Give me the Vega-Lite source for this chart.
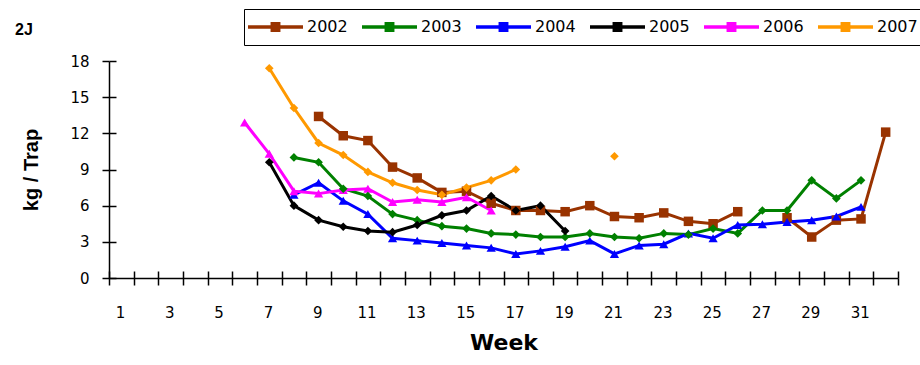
{
  "$schema": "https://vega.github.io/schema/vega-lite/v6.json",
  "autosize": {"type": "none"},
  "width": 789,
  "height": 217,
  "padding": {"left": 109, "top": 61, "right": 22, "bottom": 87},
  "background": "white",
  "title": {"text": "2J", "anchor": "start", "frame": "group", "dx": -94, "dy": 33, "fontSize": 16, "fontWeight": "bold", "font": "Liberation Sans", "color": "black"},
  "config": {
    "view": {"stroke": null},
    "font": "DejaVu Sans",
    "axis": {"grid": false, "domainColor": "black", "tickColor": "black", "labelColor": "black", "titleColor": "black", "domainWidth": 1.5, "tickWidth": 1.5, "labelFont": "DejaVu Sans", "labelFontSize": 15},
    "point": {"filled": true, "opacity": 1}
  },
  "data": {"values": [
    {"year": "2002", "seg": "2002a", "week": 9, "kg": 13.4},
    {"year": "2002", "seg": "2002a", "week": 10, "kg": 11.8},
    {"year": "2002", "seg": "2002a", "week": 11, "kg": 11.4},
    {"year": "2002", "seg": "2002a", "week": 12, "kg": 9.2},
    {"year": "2002", "seg": "2002a", "week": 13, "kg": 8.3},
    {"year": "2002", "seg": "2002a", "week": 14, "kg": 7.1},
    {"year": "2002", "seg": "2002a", "week": 15, "kg": 7.2},
    {"year": "2002", "seg": "2002a", "week": 16, "kg": 6.2},
    {"year": "2002", "seg": "2002a", "week": 17, "kg": 5.6},
    {"year": "2002", "seg": "2002a", "week": 18, "kg": 5.6},
    {"year": "2002", "seg": "2002a", "week": 19, "kg": 5.5},
    {"year": "2002", "seg": "2002a", "week": 20, "kg": 6.0},
    {"year": "2002", "seg": "2002a", "week": 21, "kg": 5.1},
    {"year": "2002", "seg": "2002a", "week": 22, "kg": 5.0},
    {"year": "2002", "seg": "2002a", "week": 23, "kg": 5.4},
    {"year": "2002", "seg": "2002a", "week": 24, "kg": 4.7},
    {"year": "2002", "seg": "2002a", "week": 25, "kg": 4.5},
    {"year": "2002", "seg": "2002a", "week": 26, "kg": 5.5},
    {"year": "2002", "seg": "2002b", "week": 28, "kg": 5.0},
    {"year": "2002", "seg": "2002b", "week": 29, "kg": 3.4},
    {"year": "2002", "seg": "2002b", "week": 30, "kg": 4.8},
    {"year": "2002", "seg": "2002b", "week": 31, "kg": 4.9},
    {"year": "2002", "seg": "2002b", "week": 32, "kg": 12.1},
    {"year": "2003", "seg": "2003", "week": 8, "kg": 10.0},
    {"year": "2003", "seg": "2003", "week": 9, "kg": 9.6},
    {"year": "2003", "seg": "2003", "week": 10, "kg": 7.4},
    {"year": "2003", "seg": "2003", "week": 11, "kg": 6.8},
    {"year": "2003", "seg": "2003", "week": 12, "kg": 5.3},
    {"year": "2003", "seg": "2003", "week": 13, "kg": 4.8},
    {"year": "2003", "seg": "2003", "week": 14, "kg": 4.3},
    {"year": "2003", "seg": "2003", "week": 15, "kg": 4.1},
    {"year": "2003", "seg": "2003", "week": 16, "kg": 3.7},
    {"year": "2003", "seg": "2003", "week": 17, "kg": 3.6},
    {"year": "2003", "seg": "2003", "week": 18, "kg": 3.4},
    {"year": "2003", "seg": "2003", "week": 19, "kg": 3.4},
    {"year": "2003", "seg": "2003", "week": 20, "kg": 3.7},
    {"year": "2003", "seg": "2003", "week": 21, "kg": 3.4},
    {"year": "2003", "seg": "2003", "week": 22, "kg": 3.3},
    {"year": "2003", "seg": "2003", "week": 23, "kg": 3.7},
    {"year": "2003", "seg": "2003", "week": 24, "kg": 3.6},
    {"year": "2003", "seg": "2003", "week": 25, "kg": 4.1},
    {"year": "2003", "seg": "2003", "week": 26, "kg": 3.7},
    {"year": "2003", "seg": "2003", "week": 27, "kg": 5.6},
    {"year": "2003", "seg": "2003", "week": 28, "kg": 5.6},
    {"year": "2003", "seg": "2003", "week": 29, "kg": 8.1},
    {"year": "2003", "seg": "2003", "week": 30, "kg": 6.6},
    {"year": "2003", "seg": "2003", "week": 31, "kg": 8.1},
    {"year": "2004", "seg": "2004", "week": 8, "kg": 6.9},
    {"year": "2004", "seg": "2004", "week": 9, "kg": 7.9},
    {"year": "2004", "seg": "2004", "week": 10, "kg": 6.4},
    {"year": "2004", "seg": "2004", "week": 11, "kg": 5.3},
    {"year": "2004", "seg": "2004", "week": 12, "kg": 3.3},
    {"year": "2004", "seg": "2004", "week": 13, "kg": 3.1},
    {"year": "2004", "seg": "2004", "week": 14, "kg": 2.9},
    {"year": "2004", "seg": "2004", "week": 15, "kg": 2.7},
    {"year": "2004", "seg": "2004", "week": 16, "kg": 2.5},
    {"year": "2004", "seg": "2004", "week": 17, "kg": 2.0},
    {"year": "2004", "seg": "2004", "week": 18, "kg": 2.25},
    {"year": "2004", "seg": "2004", "week": 19, "kg": 2.6},
    {"year": "2004", "seg": "2004", "week": 20, "kg": 3.1},
    {"year": "2004", "seg": "2004", "week": 21, "kg": 2.0},
    {"year": "2004", "seg": "2004", "week": 22, "kg": 2.7},
    {"year": "2004", "seg": "2004", "week": 23, "kg": 2.8},
    {"year": "2004", "seg": "2004", "week": 24, "kg": 3.7},
    {"year": "2004", "seg": "2004", "week": 25, "kg": 3.3},
    {"year": "2004", "seg": "2004", "week": 26, "kg": 4.4},
    {"year": "2004", "seg": "2004", "week": 27, "kg": 4.45},
    {"year": "2004", "seg": "2004", "week": 28, "kg": 4.65},
    {"year": "2004", "seg": "2004", "week": 29, "kg": 4.8},
    {"year": "2004", "seg": "2004", "week": 30, "kg": 5.1},
    {"year": "2004", "seg": "2004", "week": 31, "kg": 5.9},
    {"year": "2005", "seg": "2005", "week": 7, "kg": 9.6},
    {"year": "2005", "seg": "2005", "week": 8, "kg": 6.0},
    {"year": "2005", "seg": "2005", "week": 9, "kg": 4.8},
    {"year": "2005", "seg": "2005", "week": 10, "kg": 4.25},
    {"year": "2005", "seg": "2005", "week": 11, "kg": 3.9},
    {"year": "2005", "seg": "2005", "week": 12, "kg": 3.8},
    {"year": "2005", "seg": "2005", "week": 13, "kg": 4.4},
    {"year": "2005", "seg": "2005", "week": 14, "kg": 5.2},
    {"year": "2005", "seg": "2005", "week": 15, "kg": 5.6},
    {"year": "2005", "seg": "2005", "week": 16, "kg": 6.8},
    {"year": "2005", "seg": "2005", "week": 17, "kg": 5.6},
    {"year": "2005", "seg": "2005", "week": 18, "kg": 6.0},
    {"year": "2005", "seg": "2005", "week": 19, "kg": 3.9},
    {"year": "2006", "seg": "2006", "week": 6, "kg": 12.9},
    {"year": "2006", "seg": "2006", "week": 7, "kg": 10.3},
    {"year": "2006", "seg": "2006", "week": 8, "kg": 7.2},
    {"year": "2006", "seg": "2006", "week": 9, "kg": 7.0},
    {"year": "2006", "seg": "2006", "week": 10, "kg": 7.3},
    {"year": "2006", "seg": "2006", "week": 11, "kg": 7.4},
    {"year": "2006", "seg": "2006", "week": 12, "kg": 6.3},
    {"year": "2006", "seg": "2006", "week": 13, "kg": 6.5},
    {"year": "2006", "seg": "2006", "week": 14, "kg": 6.3},
    {"year": "2006", "seg": "2006", "week": 15, "kg": 6.7},
    {"year": "2006", "seg": "2006", "week": 16, "kg": 5.6},
    {"year": "2007", "seg": "2007a", "week": 7, "kg": 17.4},
    {"year": "2007", "seg": "2007a", "week": 8, "kg": 14.1},
    {"year": "2007", "seg": "2007a", "week": 9, "kg": 11.2},
    {"year": "2007", "seg": "2007a", "week": 10, "kg": 10.2},
    {"year": "2007", "seg": "2007a", "week": 11, "kg": 8.8},
    {"year": "2007", "seg": "2007a", "week": 12, "kg": 7.9},
    {"year": "2007", "seg": "2007a", "week": 13, "kg": 7.3},
    {"year": "2007", "seg": "2007a", "week": 14, "kg": 6.9},
    {"year": "2007", "seg": "2007a", "week": 15, "kg": 7.5},
    {"year": "2007", "seg": "2007a", "week": 16, "kg": 8.1},
    {"year": "2007", "seg": "2007a", "week": 17, "kg": 9.0},
    {"year": "2007", "seg": "2007b", "week": 21, "kg": 10.1}
  ]},
  "resolve": {"axis": {"x": "independent", "y": "independent"}},
  "layer": [
    {
      "mark": {"type": "line", "strokeWidth": 3},
      "encoding": {
        "x": {"field": "week", "type": "quantitative", "scale": {"domain": [0.5, 32.5], "nice": false, "zero": false},
          "axis": {"orient": "bottom", "title": "Week", "titleFont": "DejaVu Sans", "titleFontSize": 22, "titleFontWeight": "bold", "titlePadding": 12,
            "values": [0.5,1.5,2.5,3.5,4.5,5.5,6.5,7.5,8.5,9.5,10.5,11.5,12.5,13.5,14.5,15.5,16.5,17.5,18.5,19.5,20.5,21.5,22.5,23.5,24.5,25.5,26.5,27.5,28.5,29.5,30.5,31.5,32.5],
            "labelExpr": "(datum.value + 0.5) % 2 == 1 && datum.value < 32 ? format(datum.value + 0.5, 'd') : ''",
            "labelOffset": 11, "labelOverlap": false, "labelFlush": false, "labelPadding": 20, "tickSize": 7}},
        "y": {"field": "kg", "type": "quantitative", "scale": {"domain": [0, 18], "nice": false},
          "axis": {"orient": "left", "title": "kg / Trap", "titleFont": "Liberation Sans", "titleFontSize": 20, "titleFontWeight": "bold", "titlePadding": 28,
            "values": [0, 3, 6, 9, 12, 15, 18], "labelPadding": 13, "tickSize": 7, "labelFlush": false}},
        "color": {"field": "year", "type": "nominal",
          "scale": {"domain": ["2002", "2003", "2004", "2005", "2006", "2007"], "range": ["#993300", "#008000", "#0000FF", "#000000", "#FF00FF", "#FF9900"]},
          "legend": {"orient": "none", "legendX": 135, "legendY": -52, "direction": "horizontal", "columns": 6, "title": null,
            "symbolType": "M-1,-0.065H1V0.065H-1Z M-0.18,-0.18H0.18V0.18H-0.18Z",
            "symbolSize": 3025, "symbolStrokeWidth": 0, "clipHeight": 28,
            "labelFont": "DejaVu Sans", "labelFontSize": 16, "labelColor": "black", "columnPadding": 14, "labelOffset": 4, "strokeColor": "black", "padding": 4, "fillColor": "white",
            "encode": {"symbols": {"update": {"fill": {"scale": "color", "field": "value"}, "strokeWidth": {"value": 0}}}}}},
        "detail": {"field": "seg", "type": "nominal"},
        "order": {"field": "week", "type": "quantitative"}
      }
    },
    {
      "transform": [{"filter": "datum.year == '2002'"}],
      "mark": {"type": "point", "shape": "square", "size": 90},
      "encoding": {
        "x": {"field": "week", "type": "quantitative",
          "axis": {"orient": "bottom", "title": null, "labels": false, "domain": false, "tickSize": -7,
            "values": [0.5,1.5,2.5,3.5,4.5,5.5,6.5,7.5,8.5,9.5,10.5,11.5,12.5,13.5,14.5,15.5,16.5,17.5,18.5,19.5,20.5,21.5,22.5,23.5,24.5,25.5,26.5,27.5,28.5,29.5,30.5,31.5,32.5]}},
        "y": {"field": "kg", "type": "quantitative",
          "axis": {"orient": "left", "title": null, "labels": false, "domain": false, "tickSize": -7, "values": [0, 3, 6, 9, 12, 15, 18]}},
        "color": {"field": "year", "type": "nominal"}
      }
    },
    {
      "transform": [{"filter": "datum.year == '2004' || datum.year == '2006'"}],
      "mark": {"type": "point", "shape": "triangle-up", "size": 85},
      "encoding": {
        "x": {"field": "week", "type": "quantitative", "axis": null},
        "y": {"field": "kg", "type": "quantitative", "axis": null},
        "color": {"field": "year", "type": "nominal"}
      }
    },
    {
      "transform": [{"filter": "datum.year == '2003' || datum.year == '2005' || datum.year == '2007'"}],
      "mark": {"type": "point", "shape": "diamond", "size": 75},
      "encoding": {
        "x": {"field": "week", "type": "quantitative", "axis": null},
        "y": {"field": "kg", "type": "quantitative", "axis": null},
        "color": {"field": "year", "type": "nominal"}
      }
    }
  ]
}
